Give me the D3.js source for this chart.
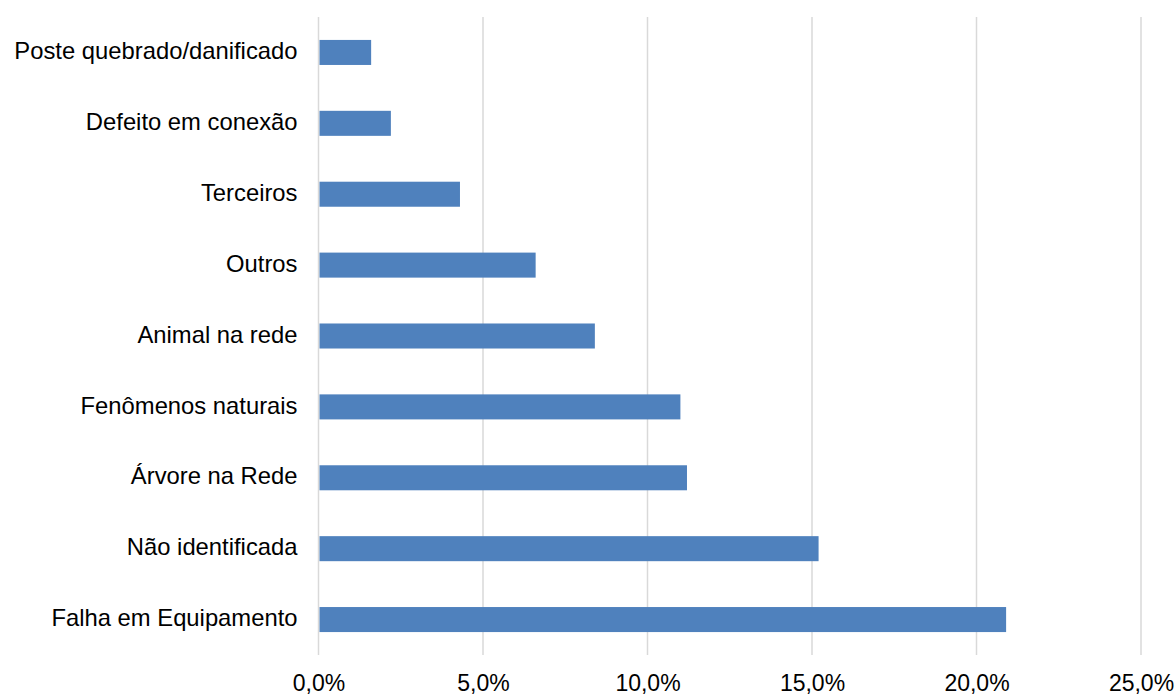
<!DOCTYPE html>
<html>
<head>
<meta charset="utf-8">
<script src="https://cdn.jsdelivr.net/npm/d3@7"></script>
<style>
  html, body { margin: 0; padding: 0; background: #fff; }
  svg { display: block; }
  text { font-family: "Liberation Sans", Arial, sans-serif; fill: #000; }
</style>
</head>
<body>
<svg id="chart" width="1176" height="695"></svg>
<script>
// Causes of outages, share of occurrences (%)
const categories = [
  "Poste quebrado/danificado",
  "Defeito em conexão",
  "Terceiros",
  "Outros",
  "Animal na rede",
  "Fenômenos naturais",
  "Árvore na Rede",
  "Não identificada",
  "Falha em Equipamento"
];
const values = [1.6, 2.2, 4.3, 6.6, 8.4, 11.0, 11.2, 15.2, 20.9];
const tickValues = [0, 5, 10, 15, 20, 25];

const svg = d3.select("#chart");
const margin = { top: 17, right: 35, bottom: 40, left: 318.5 };
const height = 695 - margin.top - margin.bottom;

const x = d3.scaleLinear().domain([0, 25]).range([0, 1141 - 318.5]);
const y = d3.scaleBand().domain(categories).range([0, height]).paddingInner(0.647).paddingOuter(0.3235);

const g = svg.append("g").attr("transform", `translate(${margin.left},${margin.top})`);

// vertical gridlines
g.selectAll("line.grid")
  .data(tickValues)
  .join("line")
  .attr("class", "grid")
  .attr("x1", d => x(d)).attr("x2", d => x(d))
  .attr("y1", 0).attr("y2", height)
  .attr("stroke", "#d9d9d9")
  .attr("stroke-width", 1.5);

// bars
g.selectAll("rect.bar")
  .data(categories)
  .join("rect")
  .attr("class", "bar")
  .attr("x", x(0) + 1)
  .attr("y", d => y(d))
  .attr("width", (d, i) => x(values[i]) - x(0) - 1)
  .attr("height", y.bandwidth())
  .attr("fill", "#4F81BD");

// category labels
const yAxis = d3.axisLeft(y).tickSize(0).tickPadding(21);
g.append("g").call(yAxis)
  .call(s => s.select(".domain").remove())
  .selectAll("text")
  .attr("font-size", 23.8)
  .attr("dy", "0.28em")
  .style("font-family", '"Liberation Sans", Arial, sans-serif')
  .attr("fill", "#000");

// value axis labels
const xAxis = d3.axisBottom(x)
  .tickValues(tickValues)
  .tickSize(0)
  .tickPadding(0)
  .tickFormat(d => d3.format(".1f")(d).replace(".", ",") + "%");
g.append("g")
  .attr("transform", `translate(0,${height})`)
  .call(xAxis)
  .call(s => s.select(".domain").remove())
  .selectAll("text")
  .attr("font-size", 23)
  .attr("dy", 0)
  .attr("y", 35.5)
  .style("font-family", '"Liberation Sans", Arial, sans-serif')
  .attr("fill", "#000");
</script>
</body>
</html>
